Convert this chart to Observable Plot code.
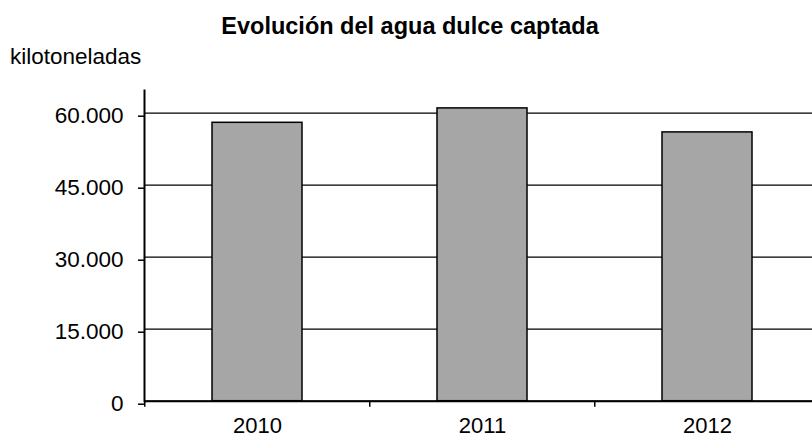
<!DOCTYPE html>
<html>
<head>
<meta charset="utf-8">
<script src="https://cdn.jsdelivr.net/npm/d3@7"></script>
<script src="https://cdn.jsdelivr.net/npm/@observablehq/plot@0.6"></script>
<style>
  html, body { margin: 0; padding: 0; background: #fff; width: 812px; height: 439px; overflow: hidden; position: relative; }
  #header { position: absolute; left: 0; top: 0; width: 812px; height: 80px; font-family: "Liberation Sans", Arial, sans-serif; color: #000; }
  #title { position: absolute; left: 0; width: 820px; text-align: center; top: 15.3px; font-size: 23.5px; line-height: 1; font-weight: bold; white-space: nowrap; }
  #unit { position: absolute; left: 10px; top: 45.7px; font-size: 22.5px; line-height: 1; white-space: nowrap; }
  #chart { position: absolute; left: 0; top: 80px; width: 812px; height: 359px; }
  #chart svg { display: block; }
</style>
</head>
<body>
<div id="header">
  <div id="title">Evolución del agua dulce captada</div>
  <div id="unit">kilotoneladas</div>
</div>
<div id="chart"></div>
<script>
const years = ["2010", "2011", "2012"];
const values = [58000, 61000, 56000];
const yTicks = [0, 15000, 30000, 45000, 60000];

const data = years.map((year, i) => ({year, value: values[i]}));
const fmt = d => d3.format(",")(d).replace(/,/g, ".");

const xRange = [144, 820.5];
const halfStep = (xRange[1] - xRange[0]) / years.length / 2;

const plot = Plot.plot({
  width: 812,
  height: 359,
  marginTop: 10,
  marginBottom: 38.3,
  marginLeft: 144,
  marginRight: 0,
  style: {fontFamily: "'Liberation Sans', Arial, sans-serif", fontSize: "22px", color: "#000", background: "#fff", overflow: "hidden"},
  x: {domain: years, range: xRange, paddingInner: 0.6, paddingOuter: 0.3, label: null},
  y: {domain: [0, 60000], insetTop: 22.7, label: null},
  marks: [
    Plot.gridY(yTicks, {stroke: "#000", strokeOpacity: 1, strokeWidth: 1.3}),
    Plot.barY(data, {x: "year", y: "value", fill: "#a6a6a6", stroke: "#000", strokeWidth: 1.5}),
    Plot.ruleY([0], {stroke: "#000", strokeWidth: 2}),
    Plot.frame({anchor: "left", stroke: "#000", strokeWidth: 2}),
    Plot.ruleX(years, {x: d => d, dx: -halfStep, y1: 0, y2: 0, insetBottom: -6, stroke: "#000", strokeWidth: 1.5}),
    Plot.axisY(yTicks, {tickFormat: fmt, tickSize: 6, tickPadding: 15, dy: 3, stroke: "#000", strokeWidth: 1.5, fontSize: 22.5, label: null}),
    Plot.axisX({tickSize: 0, tickPadding: 16.5, fontSize: 22, label: null})
  ]
});
document.getElementById("chart").appendChild(plot);
</script>
</body>
</html>
